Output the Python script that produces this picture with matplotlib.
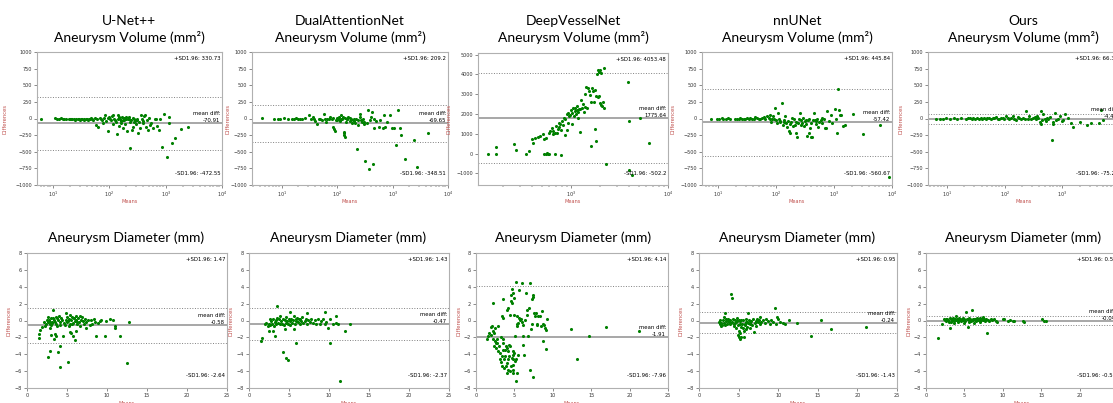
import matplotlib.pyplot as plt
import matplotlib.transforms as mtransforms

# ---------------- data: (means, differences) per panel ----------------
# top row: aneurysm volume (log x)
unet_vol_mean = [6, 11, 12, 13, 14, 15, 16, 17, 19, 20, 21, 22, 24, 25, 26, 28, 29, 30, 32, 33, 35, 36, 38, 40, 42, 44,
                 46, 48, 50, 52, 55, 58, 60, 64, 68, 71, 74, 76, 80, 85, 89, 93, 96, 100, 104, 107, 110, 114, 117, 122,
                 126, 131, 135, 140, 143, 146, 150, 154, 158, 161, 167, 172, 176, 180, 184, 191, 196, 200, 210, 215, 220,
                 225, 231, 233, 240, 250, 258, 264, 270, 277, 285, 294, 305, 315, 329, 340, 347, 361, 376, 390, 398, 417,
                 431, 444, 462, 483, 509, 529, 559, 593, 647, 666, 711, 760, 794, 870, 936, 1070, 1140, 1140, 1290, 1440,
                 1840, 2450]
unet_vol_diff = [0, 5, 0, -5, 5, 0, -5, 0, -10, -5, -15, -5, -10, -20, -5, -15, -10, -25, -5, -15, -10, -20, 0, -10, -20,
                 -5, -15, 5, -10, -25, 10, -100, -15, -135, 10, -15, -30, -65, 10, 50, -35, -190, 15, 25, -10, -25, 35,
                 -85, 50, 0, -20, -50, -240, 50, -10, -115, 20, 0, -40, -65, 25, -20, -150, 5, -25, -85, 30, -10, -190,
                 -5, -15, 20, -50, -440, -30, -175, 10, -125, -60, -15, -35, -85, 0, -25, -225, -60, -150, 50, 0, -40,
                 -75, 35, 50, -125, -25, -175, 15, -100, -65, -150, -15, -15, -115, -175, -5, -425, 75, -575, 25, -65,
                 -375, -290, -160, -130]

dual_vol_mean = [4.4, 7.3, 8.7, 9.3, 11, 13.2, 15.2, 16.7, 18.2, 20, 21.5, 23, 26.4, 31.6, 33.5, 36.3, 38.4, 40, 43, 46,
                 49.3, 52.7, 58, 60, 63, 66, 69.8, 74.8, 80, 83.5, 85, 88, 92, 95.6, 98, 101, 106, 110, 113, 115, 117,
                 121, 127, 130, 134, 135, 139, 140, 145, 150, 153, 160, 167, 170, 176, 184, 192, 200, 203, 211, 215, 226,
                 233, 240, 254, 260, 270, 279, 290, 300, 307, 320, 343, 358, 379, 395, 405, 422, 441, 453, 466, 507, 558,
                 598, 658, 687, 736, 787, 880, 970, 1040, 1150, 1230, 1370, 1436, 1690, 2400, 2760, 4300]
dual_vol_diff = [5, -5, 0, 0, 10, -5, 0, -5, 5, 0, 0, -5, 5, 50, 0, 25, -15, -35, -85, -10, 0, -25, 75, -5, -50, -10, 0,
                 25, -15, -135, 5, -165, -185, -25, -20, 15, -5, 30, -35, -10, 50, -15, 25, -215, -250, -200, -285, 5,
                 -50, -10, 0, 25, -35, 10, -15, -75, -25, -40, 0, -65, -10, -465, -100, -30, 25, 75, -30, -50, -15, -60,
                 -85, -635, -65, 135, -755, -20, 25, 100, -685, -150, 0, -35, -125, -25, -150, 50, -125, -50, 60, -150,
                 -150, -400, 125, -140, -250, -615, -325, -725, -215]

dvn_vol_mean = [141, 169, 169, 260, 272, 345, 373, 394, 404, 426, 462, 480, 512, 528, 554, 530, 550, 565, 580, 600, 594,
                608, 630, 645, 660, 685, 685, 701, 720, 735, 750, 760, 783, 775, 790, 810, 830, 850, 860, 875, 900, 900,
                925, 940, 960, 985, 1005, 1020, 1035, 1060, 1080, 1095, 1110, 1125, 1140, 1160, 1175, 1190, 1210, 1230,
                1250, 1280, 1300, 1320, 1350, 1390, 1400, 1440, 1470, 1500, 1530, 1560, 1593, 1620, 1650, 1700, 1720,
                1750, 1770, 1800, 1830, 1870, 1910, 1950, 1990, 2050, 2200, 1890, 1930, 1970, 2020, 2080, 2120, 2180,
                2290, 3880, 3970, 5120, 6380, 4000, 4300]
dvn_vol_diff = [-25, 310, 0, 480, 180, 0, 140, 710, 550, 800, 850, 880, 980, 710, 800, 0, -20, 30, -40, 0, 1015, 1130,
                1270, 990, 1150, 1050, 0, 1390, 1050, 1220, 1350, 1520, -80, 1480, 1180, 1660, 1430, 1810, 940, 1730,
                1980, 1170, 1540, 2060, 1880, 1970, 2210, 1500, 2060, 2310, 1900, 2140, 2300, 1980, 2180, 2420, 2090,
                1800, 2260, 1100, 2230, 2700, 2280, 2500, 2110, 3030, 2370, 3350, 2280, 3330, 3150, 2970, 400, 2580,
                3330, 3150, 2600, 1230, 3190, 2900, 610, 4000, 4230, 4100, 4200, 4050, 4320, 2840, 2900, 2560, 2450,
                2400, 2600, 2320, -530, 3620, 1640, 1820, 545, -830, -1080]

nnu_vol_mean = [7.4, 9.6, 10.4, 11.4, 12.2, 13.6, 14.9, 16, 19.5, 20.8, 22.3, 23.8, 25.4, 27.2, 29.1, 31.1, 33.3, 35.5,
                38, 40.6, 43.5, 46.5, 49.7, 53, 56.7, 60.6, 64.8, 69, 74, 77, 79, 82, 84.5, 87, 90.4, 96.6, 100, 103,
                108, 110, 114, 118, 126, 130, 135, 138, 144, 149, 154, 158, 165, 170, 176, 182, 188, 194, 201, 208, 215,
                222, 230, 238, 246, 254, 263, 272, 281, 290, 300, 310, 321, 332, 343, 350, 367, 375, 380, 392, 405, 419,
                430, 448, 458, 479, 490, 511, 530, 547, 585, 605, 625, 668, 700, 714, 763, 816, 872, 932, 1020, 1066,
                1110, 1143, 1218, 1250, 1300, 1450, 1530, 2090, 3110, 6300, 8700]
nnu_vol_diff = [0, -5, 0, 5, -5, 0, 5, -5, -10, 0, -5, 5, -5, -10, 0, 15, -5, 5, -10, 0, 25, 10, -10, 0, 15, 25, -5, 45,
                15, -15, 50, -50, 0, 35, -15, 165, -25, -75, 85, 0, -35, -50, 235, -100, -25, -60, 35, -75, -125, -35,
                -185, -85, -215, -50, 15, -115, -15, -100, -225, -60, -285, -75, -15, 85, -25, -100, -65, 15, -115, -40,
                -25, -80, -265, -20, 0, -215, -150, -65, -275, -275, -30, 85, -20, -85, -40, 0, -125, -50, -25, -75, 15,
                0, -150, -150, 115, -35, 50, -65, 150, 0, -215, 450, 125, 50, 50, -110, -100, 75, -235, -100, -875]

ours_vol_mean = [6.5, 7.6, 8.7, 9.7, 11.4, 13.4, 15, 17.2, 21.8, 23, 25, 27, 28.6, 31, 33.6, 36, 38.4, 41, 44, 47, 50, 54,
                 57.6, 62, 65.9, 70, 75.5, 80, 86, 92, 98.6, 104, 113, 120, 129, 138, 148, 158, 169, 180, 194, 205, 222,
                 236, 254, 270, 290, 310, 332, 355, 370, 380, 405, 420, 435, 450, 470, 498, 520, 550, 570, 610, 650, 680,
                 700, 745, 790, 850, 900, 975, 1040, 1110, 1270, 1400, 1560, 2030, 2650, 3200, 4400, 4700, 5000]
ours_vol_diff = [0, 0, -5, 5, 0, 5, 0, 5, 0, 10, 5, 0, 5, -5, 10, 0, 5, -5, 5, 0, 5, 10, 0, 5, 5, 20, 0, -5, 15, 5, 0,
                 35, 5, -15, 10, 35, 0, -25, 25, 5, -15, 10, -5, 110, 0, 35, -5, 5, 25, -15, 45, 10, -55, -90, 110, -25,
                 70, -5, -40, 10, -15, 25, -325, -55, -90, 85, -25, -5, 45, -40, -25, 75, 10, -75, -130, -55, -105, -65,
                 -75, 125, -20]

# bottom row: aneurysm diameter
unet_dia_mean = [1.5, 1.5, 1.66, 1.91, 2.08, 2.2, 2.41, 2.5, 2.62, 2.62, 2.75, 2.83, 2.83, 2.91, 3.0, 3.04, 3.16, 3.24,
                 3.24, 3.33, 3.45, 3.49, 3.58, 3.66, 3.74, 3.87, 3.99, 4.08, 4.16, 2.62, 2.91, 3.04, 3.33, 3.58, 3.87,
                 4.16, 4.16, 4.49, 4.7, 4.83, 4.91, 4.99, 5.12, 5.12, 5.24, 5.32, 5.41, 5.53, 5.66, 5.74, 5.82, 5.95,
                 6.07, 6.16, 6.24, 6.36, 6.49, 6.57, 6.66, 6.78, 6.91, 6.99, 7.07, 7.2, 7.32, 7.4, 7.61, 7.82, 8.03,
                 8.15, 8.32, 8.44, 8.86, 9.07, 9.28, 5.41, 5.53, 5.74, 5.95, 6.07, 8.65, 9.69, 9.82, 10.32, 10.73,
                 10.94, 11.06, 11.65, 12.48, 12.69, 4.4, 4.6, 5.0, 5.3, 5.6, 5.9, 6.3, 4.2, 3.8, 3.1]
unet_dia_diff = [-1.56, -2.07, -1.09, -0.77, -0.22, -0.69, -0.38, 0.02, -0.22, 0.41, 0.1, -0.38, -0.89, -0.14, 0.26,
                 -0.49, -0.14, 1.28, 0.3, 0.02, -0.14, -1.64, -0.38, 0.41, 0.3, 0.02, 0.49, -0.22, -0.49, -4.33, -3.66,
                 -1.68, -2.19, -1.8, -3.77, -3.06, -5.55, -1.88, -0.49, 0.1, 0.89, 0.41, -0.1, -4.96, 0.18, -0.38, 0.69,
                 0.02, 0.41, -0.3, 0.26, -0.1, 0.57, 0.1, -0.38, 0.3, -0.22, 0.49, -0.61, 0.02, 0.41, -0.1, -0.38, 0.18,
                 -0.14, -0.89, 0.02, -0.49, 0.02, -0.38, 0.18, -0.14, -0.3, -0.1, 0.02, -1.4, -1.48, -1.8, -2.27, -1.28,
                 -1.88, -1.88, -0.1, 0.18, 0.02, -0.89, -0.69, -1.8, -5.04, -0.22, 0.1, -0.3, -0.2, -0.6, -0.4, 0.3,
                 -0.2, 0.3, -0.6, -0.3]

dual_dia_mean = [1.54, 1.67, 1.96, 2.17, 2.38, 2.5, 2.58, 2.67, 2.79, 2.92, 3.0, 3.08, 3.21, 3.33, 3.42, 3.5, 3.63, 3.75,
                 3.83, 3.92, 4.04, 4.17, 4.25, 4.33, 4.46, 4.58, 4.67, 4.75, 4.88, 5.0, 5.08, 5.17, 5.29, 5.42, 5.5,
                 5.58, 5.71, 5.83, 5.92, 6.0, 6.13, 6.25, 6.33, 6.42, 6.54, 6.67, 6.75, 6.96, 7.08, 7.25, 7.38, 7.58,
                 7.79, 8.0, 8.21, 8.42, 8.63, 8.83, 9.04, 9.25, 9.46, 9.67, 9.88, 10.08, 10.5, 10.83, 10.92, 3.5, 3.21,
                 4.25, 4.58, 4.88, 5.83, 5.17, 7.25, 9.46, 10.08, 11.96, 12.58, 11.42, 11.1, 2.5, 3.0, 4.46, 5.58]
dual_dia_diff = [-2.45, -2.09, -0.47, -0.28, -0.67, -0.36, 0.12, -0.59, -0.08, -0.36, 0.2, -0.67, -0.2, 0.04, -0.47,
                 0.32, -0.28, 0.12, -0.47, 0.51, -0.08, -0.36, 0.2, -0.59, 0.04, -0.28, 0.43, -0.08, -0.36, 0.12, -0.59,
                 -0.08, 0.2, -0.28, 0.04, 0.51, -0.36, 0.12, -0.08, 0.32, -0.2, 0.2, -0.36, 0.12, -0.08, 0.43, -0.28,
                 -0.08, 0.12, -0.36, 0.04, -0.2, 0.2, -0.28, 0.04, -0.36, 0.2, -0.47, -0.08, 0.12, -0.36, -0.2, -0.87,
                 0.2, -0.36, -0.28, 0.51, 1.7, -1.78, -3.68, -4.47, -4.7, -2.65, 0.99, 0.91, 0.99, -2.65, -1.19, -0.36,
                 -7.19, -0.36, -1.26, -1.26, -0.99, -0.99]

dvn_dia_mean = [1.47, 1.6, 1.73, 1.91, 1.91, 2.04, 2.17, 2.17, 2.25, 2.34, 2.34, 2.47, 2.47, 2.6, 2.6, 2.69, 2.77, 2.9,
                2.9, 3.03, 3.12, 3.12, 3.21, 3.21, 3.34, 3.34, 3.34, 3.47, 3.47, 3.55, 3.55, 3.55, 3.64, 3.68, 3.77,
                3.77, 3.9, 3.9, 3.99, 3.99, 4.07, 4.07, 4.12, 4.2, 4.2, 4.2, 4.33, 4.33, 4.42, 4.42, 4.42, 4.51, 4.51,
                4.51, 4.64, 4.64, 4.64, 4.77, 4.77, 4.77, 4.77, 4.85, 4.85, 4.85, 4.94, 4.94, 4.94, 5.07, 5.07, 5.2,
                5.2, 5.2, 5.29, 5.29, 5.37, 5.37, 5.5, 5.5, 5.63, 5.63, 5.72, 5.81, 5.94, 5.94, 6.07, 6.15, 6.15, 6.24,
                6.37, 6.5, 6.59, 6.67, 6.8, 6.93, 7.02, 7.02, 7.11, 7.45, 7.24, 7.24, 7.37, 7.45, 7.54, 7.67, 7.8,
                7.89, 7.97, 8.1, 8.32, 8.41, 8.54, 8.67, 8.75, 8.84, 8.97, 9.1, 9.19, 9.1, 12.43, 13.17, 14.73, 16.98,
                21.19]
dvn_dia_diff = [-2.25, -1.78, -1.46, -1.66, -0.75, -0.67, -1.26, 2.02, -2.17, -1.46, -3.04, -2.45, -0.87, -2.65, -3.24,
                -2.25, -2.65, -0.67, -3.64, -3.04, -3.83, -4.55, -4.94, -1.94, -4.23, 0.51, -5.42, 0.32, -2.25, -2.65,
                -3.44, 2.49, -5.61, -4.62, -4.23, -3.44, -3.04, -5.42, -6.21, 1.3, -3.24, -5.02, -4.62, -3.64, -5.81,
                1.5, -4.23, -2.85, 0.71, -3.04, -6.01, 2.29, 3.08, -5.42, -4.43, 2.09, 3.68, -5.81, -4.62, -3.64, 3.28,
                -6.21, -5.22, -4.03, -3.83, 2.69, 0.71, -1.78, -4.82, -7.19, -4.62, 4.55, 0.51, -0.47, -0.67, -6.21,
                -4.03, -0.28, 0.32, 3.6, 0.04, 0.12, -0.2, 4.47, -0.59, -1.78, -2.96, -4.03, 0.04, 3.28, 1.3, 0.71,
                -1.86, 1.5, 4.47, -5.81, -0.99, -6.68, -0.47, 2.49, 3.08, 2.81, 0.91, 0.51, 0.83, -0.47, -0.59, 0.51,
                0.59, -0.67, 1.11, -0.36, -2.41, -0.59, -0.83, -1.07, 0.12, -3.32, -0.99, -4.55, -1.78, -0.79, -1.26]

nnu_dia_mean = [2.52, 2.61, 2.69, 2.82, 2.94, 3.03, 3.11, 3.19, 3.24, 3.36, 3.45, 3.53, 3.66, 3.78, 3.87, 3.95, 4.08,
                4.2, 4.2, 4.29, 4.37, 4.5, 4.62, 4.71, 4.79, 4.92, 4.92, 5.04, 5.13, 5.13, 5.21, 5.34, 5.34, 5.46, 5.55,
                5.63, 5.63, 5.76, 5.88, 5.97, 6.05, 6.18, 6.18, 6.3, 6.39, 6.47, 6.6, 6.72, 6.81, 6.89, 7.02, 7.14,
                7.23, 7.31, 7.44, 7.56, 7.65, 7.73, 7.86, 8.07, 8.28, 8.49, 8.7, 8.91, 9.12, 9.33, 9.54, 9.66, 9.83,
                9.96, 10.17, 10.59, 10.8, 11.34, 12.39, 14.12, 15.42, 16.64, 21.09, 2.8, 3.3, 3.6, 4.0, 4.4, 4.8, 5.0,
                5.2, 5.5, 5.8, 6.1, 4.6, 5.3, 5.9, 6.5, 5.1]
nnu_dia_diff = [-0.2, -0.47, 0.04, -0.28, -0.59, 0.04, 0.43, -0.28, 0.83, -0.08, 0.2, -0.36, 0.12, -0.2, 0.04, -0.47,
                3.16, 2.69, -0.2, 0.2, -0.36, 0.04, -0.87, -0.2, 0.32, -0.59, -1.66, 0.04, -0.47, -2.17, -0.08, -0.75,
                -1.94, -0.36, 0.04, -1.26, -1.94, -0.47, -0.2, 0.2, -0.75, 0.83, -0.28, 0.04, -0.47, -0.87, -0.08,
                -0.59, 0.12, -1.38, -0.28, -0.08, -0.67, 0.2, -0.2, 0.04, -0.47, 0.43, -0.2, 0.04, -0.28, 0.2, -0.08,
                -0.36, 0.04, -0.2, 1.5, -0.47, 0.43, 0.12, -0.2, -0.28, -0.36, 0.04, -0.28, -1.78, 0.04, -0.99, -0.75,
                -0.6, -0.5, -0.1, -0.3, -0.6, -0.1, -1.3, -1.5, -0.9, -0.5, -0.2, -0.3, 0.1, -1.0, -0.3, -2.0]

ours_dia_mean = [1.58, 2.14, 2.31, 2.44, 2.57, 2.66, 2.74, 2.87, 3.0, 3.08, 3.17, 3.3, 3.43, 3.51, 3.6, 3.73, 3.85, 3.94,
                 4.03, 4.15, 4.28, 4.37, 4.45, 4.58, 4.71, 4.8, 4.88, 5.01, 5.14, 5.22, 5.31, 5.44, 5.57, 5.65, 5.74,
                 5.87, 6.0, 6.08, 6.17, 6.3, 6.42, 6.51, 6.6, 6.72, 6.85, 6.94, 7.02, 7.15, 7.28, 7.37, 7.45, 7.58,
                 7.71, 7.79, 7.88, 8.01, 8.22, 8.44, 8.65, 8.87, 9.08, 9.29, 10.02, 10.15, 10.71, 10.88, 11.31, 11.43,
                 12.59, 12.72, 15.16, 15.42, 15.59, 3.2, 3.6, 4.2, 4.9, 5.6, 6.3, 7.0]
ours_dia_diff = [-2.13, -0.43, 0.2, 0.04, 0.12, -0.08, 0.2, 0.04, -0.2, 0.28, -0.87, 0.12, 0.04, 0.32, -0.08, 0.2, 0.04,
                 0.59, 0.12, -0.08, 0.32, 0.04, 0.2, -0.08, 0.12, 0.28, 0.04, 0.2, 0.0, 1.03, 0.12, -0.79, 0.28, 0.04,
                 0.2, -0.08, 1.3, 0.2, 0.04, 0.2, 0.12, -0.08, 0.32, 0.04, 0.2, 0.04, 0.32, 0.04, 0.2, 0.43, 0.04, 0.2,
                 -0.08, 0.12, -1.46, 0.04, -0.08, 0.12, 0.04, 0.12, -0.08, -0.2, 0.12, 0.2, -0.08, 0.04, -0.08, 0.0,
                 -0.08, -0.2, 0.12, 0.0, -0.08, -0.2, -0.3, -0.2, -0.25, -0.2, -0.3, -0.2]

# limits of agreement: (+SD1.96, mean diff, -SD1.96)
vol_stats = [(330.73, -70.91, -472.55), (209.2, -69.65, -348.51), (4053.48, 1775.64, -502.2),
             (445.84, -57.42, -560.67), (66.37, -4.46, -75.29)]
dia_stats = [(1.47, -0.58, -2.64), (1.43, -0.47, -2.37), (4.14, -1.91, -7.96),
             (0.95, -0.24, -1.43), (0.51, -0.04, -0.59)]
models = ["U-Net++", "DualAttentionNet", "DeepVesselNet", "nnUNet", "Ours"]

W, H = 1113, 403
fig = plt.figure(figsize=(W / 100, H / 100), dpi=100)


def box(l, r, t, b):
    # pixel box -> figure fraction
    return [l / W, 1 - b / H, (r - l) / W, (b - t) / H]


label_red = '#c0504d'


def ba_panel(ax, means, diffs, stats, ylab_x, xlab_y):
    hi, md, lo = stats
    ax.scatter(means, diffs, s=5, color='green', linewidths=0, zorder=3)
    ax.axhline(md, color='#a0a0a0', lw=1.3)
    ax.axhline(hi, color='gray', lw=0.7, ls=':')
    ax.axhline(lo, color='gray', lw=0.7, ls=':')
    trans = mtransforms.blended_transform_factory(ax.transAxes, ax.transData)
    ax.text(0.99, 0.95, '+SD1.96: {}'.format(hi), transform=ax.transAxes, ha='right', va='center', fontsize=3.9)
    ax.text(0.99, md, 'mean diff:\n{}'.format(md), transform=trans, ha='right', va='bottom', fontsize=3.9,
            linespacing=1.5)
    ax.text(0.99, 0.09, '-SD1.96: {}'.format(lo), transform=ax.transAxes, ha='right', va='center', fontsize=3.9)
    ax.set_xlabel('Means', color=label_red, fontsize=3.6)
    ax.set_ylabel('Differences', color=label_red, fontsize=3.8)
    ax.yaxis.set_label_coords(ylab_x, 0.5)
    ax.xaxis.set_label_coords(0.5, xlab_y)
    ax.tick_params(labelsize=3.5, length=2, width=0.4, pad=1.5, colors='#333333')
    ax.tick_params(which='minor', length=1.2, width=0.3)
    for s in ax.spines.values():
        s.set_color('#b0b0b0')
        s.set_linewidth(0.8)


# ---------- top row ----------
top_boxes = [(37, 222, 52, 185), (252, 448, 52, 185), (478, 668, 53, 185), (702, 892, 52, 185), (928, 1120, 52, 185)]
top_xlims = [(5.2, 1e4), (2.9, 1e4), (110, 1e4), (5.2, 1e4), (4.7, 1e4)]
top_ylab = [-0.16, -0.11, -0.137, -0.137, -0.13]
vol_data = [(unet_vol_mean, unet_vol_diff), (dual_vol_mean, dual_vol_diff), (dvn_vol_mean, dvn_vol_diff),
            (nnu_vol_mean, nnu_vol_diff), (ours_vol_mean, ours_vol_diff)]
title_cx = [129, 350, 573, 797, 1023]

for i in range(5):
    ax = fig.add_axes(box(*top_boxes[i]))
    ba_panel(ax, vol_data[i][0], vol_data[i][1], vol_stats[i], top_ylab[i], -0.105)
    ax.set_xscale('log')
    ax.set_xlim(*top_xlims[i])
    if i == 2:
        ax.set_ylim(-1590, 5080)
        ax.set_yticks(range(-1000, 5001, 1000))
    else:
        ax.set_ylim(-1000, 1000)
        ax.set_yticks(range(-1000, 1001, 250))
    fig.text(title_cx[i] / W, 1 - 21 / H, models[i], ha='center', va='center', fontsize=10, family='Lato')
    fig.text(title_cx[i] / W, 1 - 38 / H, 'Aneurysm Volume (mm²)', ha='center', va='center', fontsize=10,
             family='Lato')

# ---------- bottom row ----------
bot_boxes = [(27, 227, 253, 388), (249, 449, 253, 388), (476, 668, 253, 388), (699, 897, 253, 388),
             (926, 1118, 253, 388)]
bot_ylab = [-0.077, -0.08, -0.073, -0.076, -0.078]
dia_data = [(unet_dia_mean, unet_dia_diff), (dual_dia_mean, dual_dia_diff), (dvn_dia_mean, dvn_dia_diff),
            (nnu_dia_mean, nnu_dia_diff), (ours_dia_mean, ours_dia_diff)]
bot_cx = [126, 348, 573, 797, 1023]

for i in range(5):
    ax = fig.add_axes(box(*bot_boxes[i]))
    ba_panel(ax, dia_data[i][0], dia_data[i][1], dia_stats[i], bot_ylab[i], -0.096)
    ax.set_xlim(0, 25)
    ax.set_ylim(-8, 8)
    ax.set_xticks(range(0, 26, 5))
    ax.set_yticks(range(-8, 9, 2))
    fig.text(bot_cx[i] / W, 1 - 238 / H, 'Aneurysm Diameter (mm)', ha='center', va='center', fontsize=10,
             family='Lato')

fig.savefig('out.png', dpi=100, facecolor='white')
